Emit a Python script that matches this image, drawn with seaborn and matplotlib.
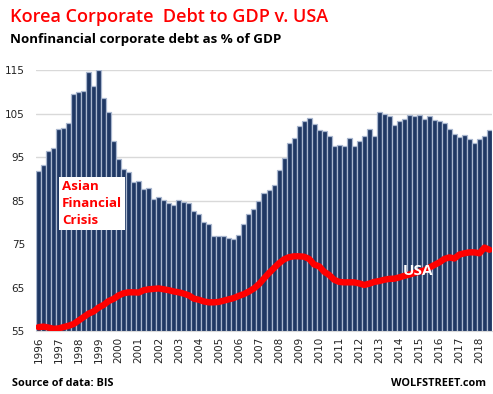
import numpy as np
import pandas as pd
import matplotlib
matplotlib.use("Agg")
import matplotlib.pyplot as plt
import seaborn as sns

years = list(range(1996, 2019))
korea = [91.8, 93.2, 96.4, 97.1,
         101.5, 101.7, 102.8, 109.5,
         110.0, 110.2, 114.6, 111.3,
         115.0, 108.6, 105.4, 98.8,
         94.6, 92.3, 91.6, 89.3,
         89.6, 87.7, 88.0, 85.4,
         85.9, 85.1, 84.4, 84.1,
         85.1, 84.8, 84.4, 82.7,
         81.9, 80.2, 79.6, 76.9,
         76.9, 76.9, 76.3, 76.1,
         77.2, 79.6, 81.9, 83.2,
         85.0, 86.7, 87.4, 88.6,
         92.0, 94.9, 98.2, 99.5,
         102.3, 103.4, 104.1, 102.6,
         101.2, 101.0, 99.9, 97.6,
         97.8, 97.6, 99.5, 97.7,
         98.7, 100.0, 101.4, 99.8,
         105.4, 104.9, 104.4, 102.5,
         103.3, 103.7, 104.8, 104.6,
         104.8, 103.9, 104.4, 103.5,
         103.3, 102.8, 101.4, 100.3,
         99.6, 100.2, 99.3, 98.2,
         99.1, 100.0, 101.2]
usa = [55.9, 56.0, 55.8, 55.5, 55.6, 55.9, 56.2, 56.6, 57.4, 58.2,
       59.0, 59.5, 60.4, 61.0, 61.9, 62.4, 63.2, 63.7, 63.9, 63.9,
       63.85, 64.4, 64.6, 64.7, 64.8, 64.6, 64.4, 64.1, 63.9, 63.6,
       63.2,
       62.45, 62.2, 61.8, 61.6, 61.6, 61.7, 62.0, 62.3, 62.6, 63.1,
       63.5, 64.1, 64.8, 65.8, 67.1, 68.35, 69.5, 70.6, 71.5, 72.0,
       72.2, 72.2, 72.1, 71.6, 70.3, 69.9, 68.65, 67.9, 66.8, 66.3,
       66.2, 66.2, 66.2, 65.96, 65.6, 65.9, 66.3, 66.5, 66.8, 67.0,
       67.05, 67.35, 67.7, 68.0, 68.35, 68.65, 68.96, 69.6, 70.2, 70.8,
       71.6, 71.95, 71.7, 72.6, 72.9, 73.1, 73.1, 72.9, 74.2, 73.7]
yticks = [55, 65, 75, 85, 95, 105, 115]

n = len(korea)
df = pd.DataFrame({"q": np.arange(n), "korea": korea, "usa": usa})

sns.set_style("white")
plt.rcParams["font.family"] = ["DejaVu Sans"]

fig = plt.figure(figsize=(4.93, 3.94), dpi=100)
ax = fig.add_axes([36 / 493, 1 - 331 / 394, 456 / 493, (331 - 70.4) / 394])

ax.set_axisbelow(True)
ax.yaxis.grid(True, color="#D9D9D9", linewidth=1.0)

sns.barplot(data=df, x="q", y="korea", color="#1F3864", width=1.0,
            edgecolor="#A9B7CF", linewidth=0.9, saturation=1, ax=ax,
            zorder=2)
sns.lineplot(data=df, x="q", y="usa", color="#FF0000", linewidth=4.6,
             ax=ax, zorder=3, solid_capstyle="round")

ax.set_xlim(-0.5, n - 0.5)
ax.set_ylim(55, 115)
ax.set_yticks(yticks)
ax.set_yticklabels([str(t) for t in yticks], fontsize=7.5, color="#222222")
ax.set_xticks(np.arange(0, n, 4))
ax.set_xticklabels([str(y) for y in years], rotation=90, fontsize=7.5,
                   color="#222222")
ax.tick_params(axis="both", length=0, pad=4)
ax.tick_params(axis="y", pad=8)
ax.set_xlabel("")
ax.set_ylabel("")
for s in ["top", "right", "left"]:
    ax.spines[s].set_visible(False)
ax.spines["bottom"].set_color("#D9D9D9")

fig.text(10 / 493, 1 - 17 / 394, "Korea Corporate  Debt to GDP v. USA",
         color="#FF0000", fontsize=13, family="Open Sans",
         fontweight="semibold", va="center", ha="left")
fig.text(10 / 493, 1 - 40 / 394, "Nonfinancial corporate debt as % of GDP",
         color="black", fontsize=9.6, fontweight="bold", family="Open Sans",
         va="center", ha="left")
fig.text(12 / 493, 1 - 384 / 394, "Source of data: BIS", color="black",
         fontsize=7.8, fontweight="bold", family="Open Sans", va="center",
         ha="left")
fig.text(486 / 493, 1 - 384 / 394, "WOLFSTREET.com", color="black",
         fontsize=7.8, fontweight="bold", family="Open Sans", va="center",
         ha="right")

ax.text(0.057, 0.49, "Asian\nFinancial\nCrisis", transform=ax.transAxes,
        color="#FF0000", fontsize=9.6, fontweight="bold", family="Open Sans",
        ha="left", va="center", linespacing=1.42, zorder=5,
        bbox=dict(facecolor="white", edgecolor="none", pad=2.0))
ax.text(75.8, 68.8, "USA", color="white", fontsize=11, fontweight="bold",
        family="Open Sans", ha="center", va="center", zorder=5)

fig.savefig("out.png", dpi=100)
